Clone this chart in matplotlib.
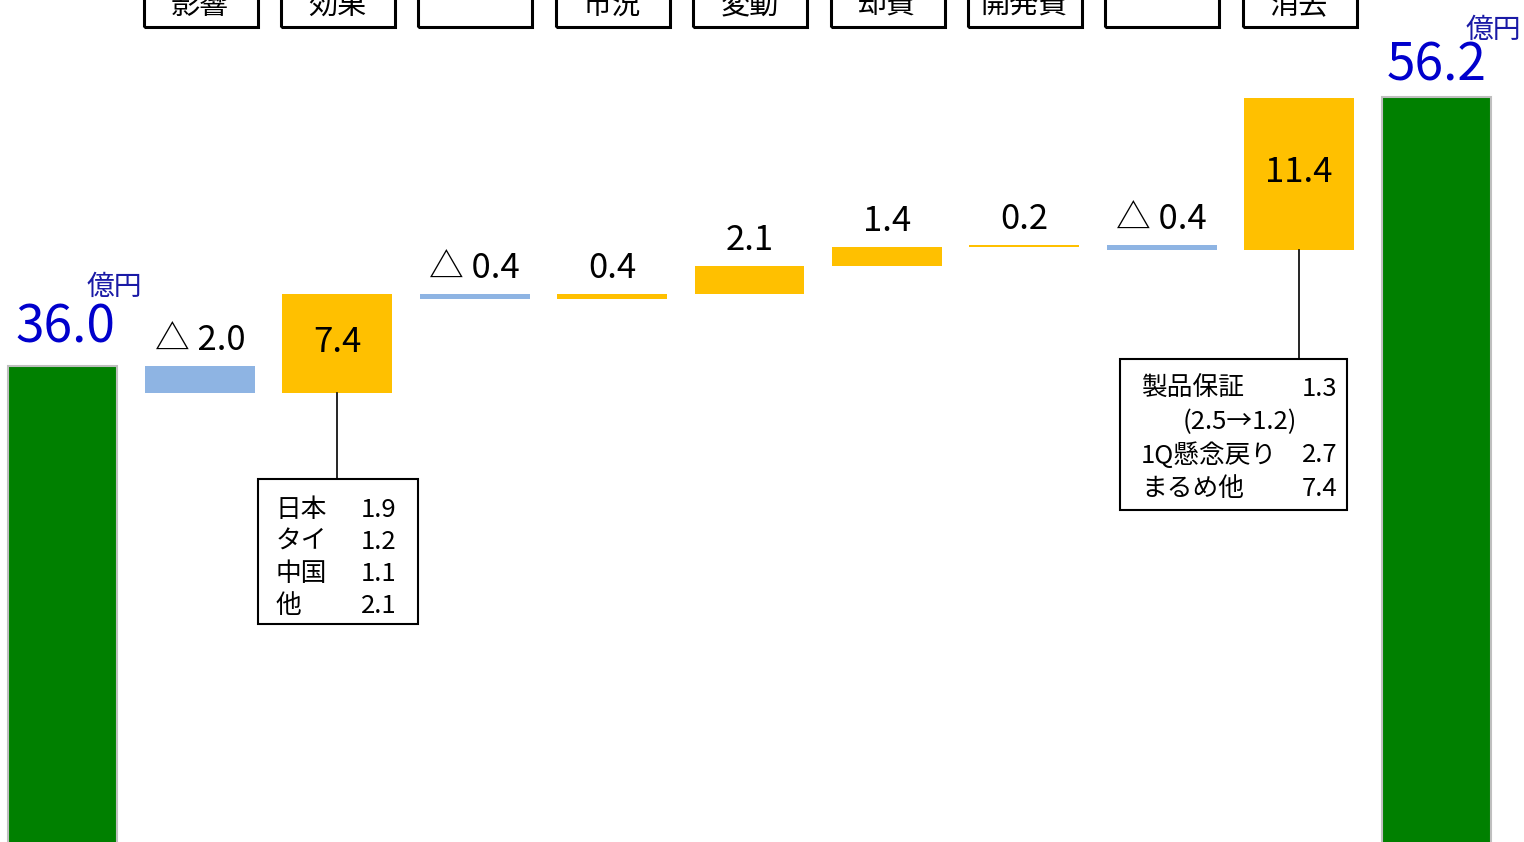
import matplotlib
matplotlib.use("Agg")
import matplotlib.pyplot as plt
from matplotlib.patches import Rectangle

plt.rcParams['font.family'] = ['Noto Sans CJK JP', 'DejaVu Sans']

# データ（億円）
start_val = 36.0
end_val = 56.2
deltas = [-2.0, 7.4, -0.4, 0.4, 2.1, 1.4, 0.2, -0.4, 11.4]
headers = ['影響', '効果', '', '市況', '変動', '却費', '開発費', '', '消去']
unit = '億円'

note1_labels = ['日本', 'タイ', '中国', '他']
note1_values = ['1.9', '1.2', '1.1', '2.1']
note2_labels = ['製品保証', '', '1Q懸念戻り', 'まるめ他']
note2_values = ['1.3', '', '2.7', '7.4']
note2_sub = '(2.5→1.2)'

GREEN = '#008000'
BLUE = '#8EB4E3'
YELLOW = '#FFC000'
TXT_BLUE = '#0000CC'

fig = plt.figure(figsize=(15.24, 8.42), dpi=100)
ax = fig.add_axes([0, 0, 1, 1])
ax.set_xlim(-0.455, 10.637)
ax.set_ylim(0.26, 63.48)
ax.axis('off')

w = 0.8
n = len(deltas)

# 始点・終点
ax.bar(0, start_val, width=w, color=GREEN, edgecolor='#BFBFBF', linewidth=1.5)
ax.bar(n + 1, end_val, width=w, color=GREEN, edgecolor='#BFBFBF', linewidth=1.5)
ax.text(0.02, start_val + 0.9, f'{start_val:.1f}', ha='center', va='bottom',
        fontsize=37, color=TXT_BLUE)
ax.text(0.38, start_val + 4.8, unit, ha='center', va='bottom', fontsize=20, color='#1A1AA6')
ax.text(n + 1.0, end_val + 0.3, f'{end_val:.1f}', ha='center', va='bottom',
        fontsize=37, color=TXT_BLUE)
ax.text(n + 1.41, end_val + 3.9, unit, ha='center', va='bottom', fontsize=20, color='#1A1AA6')

# 増減バー
level = start_val
bottoms = []
for i, d in enumerate(deltas):
    x = i + 1
    lo = level + min(d, 0)
    hi = level + max(d, 0)
    ax.bar(x, d, bottom=level, width=w, color=YELLOW if d > 0 else BLUE, linewidth=0)
    lab = f'{d:.1f}' if d >= 0 else f'△ {abs(d):.1f}'
    if abs(d) > 5:
        ax.text(x, (lo + hi) / 2 + 0.1, lab, ha='center', va='center', fontsize=25)
    else:
        ax.text(x, hi + 0.6, lab, ha='center', va='bottom', fontsize=25)
    bottoms.append(lo)
    level += d

# 上部の項目ボックス（上端は切れている）
for i, h in enumerate(headers):
    x = i + 1
    ax.add_patch(Rectangle((x - 0.41, 61.45), 0.83, 5, fill=False, edgecolor='black',
                           linewidth=2.2, clip_on=False))
    ax.text(x, 61.9, h, ha='center', va='bottom', fontsize=21)

# 注記ボックス1（効果の内訳）
bx = 2
y_top = bottoms[1] - 6.5
ax.plot([bx, bx], [bottoms[1], y_top], color='black', lw=1.2)
ax.add_patch(Rectangle((bx - 0.58, y_top - 10.9), 1.165, 10.9, fill=False,
                       edgecolor='black', lw=1.5))
for k, (l, v) in enumerate(zip(note1_labels, note1_values)):
    yy = y_top - 2.3 - 2.4 * k
    ax.text(bx - 0.45, yy, l, ha='left', va='center', fontsize=18.5)
    ax.text(bx + 0.43, yy, v, ha='right', va='center', fontsize=18.5)

# 注記ボックス2（消去の内訳）
bx = 9
y_top = bottoms[8] - 8.2
ax.plot([bx, bx], [bottoms[8], y_top], color='black', lw=1.2)
ax.add_patch(Rectangle((bx - 1.30, y_top - 11.3), 1.652, 11.3, fill=False,
                       edgecolor='black', lw=1.5))
for k, (l, v) in enumerate(zip(note2_labels, note2_values)):
    yy = y_top - 2.2 - 2.5 * k
    if k == 1:
        ax.text(bx - 0.43, yy, note2_sub, ha='center', va='center', fontsize=18.5)
        continue
    ax.text(bx - 1.15, yy, l, ha='left', va='center', fontsize=18.5)
    ax.text(bx + 0.28, yy, v, ha='right', va='center', fontsize=18.5)

fig.savefig('out.png', dpi=100)
